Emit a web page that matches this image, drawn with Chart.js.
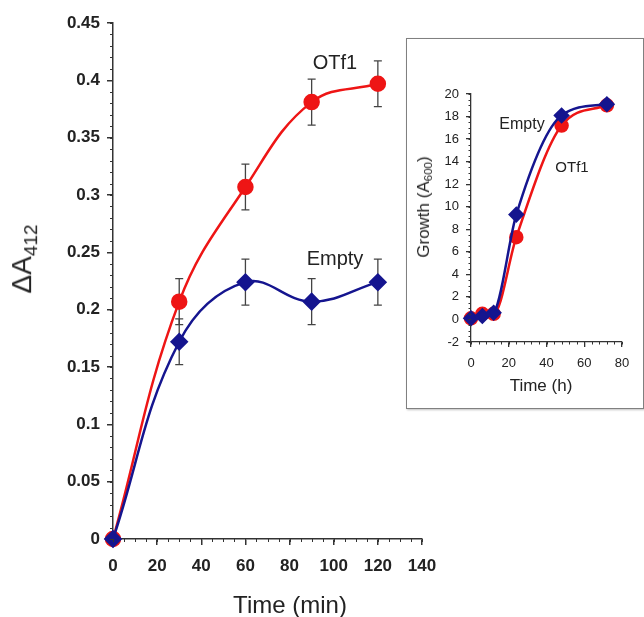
<!DOCTYPE html>
<html>
<head>
<meta charset="utf-8">
<script src="https://cdn.jsdelivr.net/npm/chart.js@4.4.1/dist/chart.umd.min.js"></script>
<style>
  body { margin: 0; background: #fff; }
  #wrap { position: relative; width: 644px; height: 617px; font-family: "Liberation Sans", Arial, sans-serif; color: #222; }
  #main { position: absolute; left: 0; top: 0; }
  #insetBox { position: absolute; left: 406px; top: 38px; width: 236px; height: 369px; border: 1.5px solid #808080; background: #fff; box-shadow: 1px 1px 2px rgba(0,0,0,0.25); }
  #inset { position: absolute; left: 0; top: 0; }
  .lbl { position: absolute; transform: translate(-50%, -50%); white-space: nowrap; line-height: 1; }
  .rot { transform: translate(-50%, -50%) rotate(-90deg); }
  sub { font-size: 0.68em; vertical-align: -0.3em; }
</style>
</head>
<body>
<div id="wrap">
  <canvas id="main" width="644" height="617"></canvas>
  <div class="lbl rot" style="left:24px; top:259px; font-size:28px;">&Delta;A<sub>412</sub></div>
  <div class="lbl" style="left:290px; top:605px; font-size:24px;">Time (min)</div>
  <div class="lbl" style="left:335px; top:62px; font-size:20px;">OTf1</div>
  <div class="lbl" style="left:335px; top:258px; font-size:20px;">Empty</div>
  <div id="insetBox">
    <canvas id="inset" width="236" height="369"></canvas>
  </div>
  <div class="lbl rot" style="left:425px; top:207px; font-size:17px;">Growth (A<sub>600</sub>)</div>
  <div class="lbl" style="left:541px; top:385px; font-size:17px;">Time (h)</div>
  <div class="lbl" style="left:522px; top:124px; font-size:16px;">Empty</div>
  <div class="lbl" style="left:572px; top:166px; font-size:15px;">OTf1</div>
</div>
<script>
// main panel: activity vs time (min)
const timeMin = [0, 30, 60, 90, 120];
const otf1Activity = [0, 0.207, 0.307, 0.381, 0.397];
const otf1Err = [0, 0.02, 0.02, 0.02, 0.02];
const emptyActivity = [0, 0.172, 0.224, 0.207, 0.224];
const emptyErr = [0, 0.02, 0.02, 0.02, 0.02];
const mainXTicks = [0, 140, 20];       // min, max, step
const mainYTicks = [0, 0.45, 0.05];

// inset: growth vs time (h)
const timeH = [0, 6, 12, 24, 48, 72];
const otf1Growth = [0.1, 0.5, 0.5, 7.3, 17.2, 19.0];
const emptyGrowth = [0.1, 0.3, 0.6, 9.3, 18.1, 19.1];
const insetXTicks = [0, 80, 20];
const insetYTicks = [-2, 20, 2];

const RED = '#ee1515';
const BLUE = '#15158f';
const AXIS = '#333';
const FONT = '"Liberation Sans", Arial, sans-serif';

const pts = (xs, ys) => xs.map((x, i) => ({ x: x, y: ys[i] }));

// small ticks between the labelled ones
const minorTicks = {
  id: 'minorTicks',
  afterDraw(chart, args, opts) {
    const ctx = chart.ctx;
    const x = chart.scales.x, y = chart.scales.y;
    ctx.save();
    ctx.strokeStyle = AXIS;
    ctx.lineWidth = 1;
    ctx.beginPath();
    let n = Math.round((x.max - x.min) / opts.xStep);
    for (let i = 0; i <= n; i++) {
      const px = Math.round(x.getPixelForValue(x.min + i * opts.xStep)) + 0.5;
      ctx.moveTo(px, x.top);
      ctx.lineTo(px, x.top + opts.len);
    }
    n = Math.round((y.max - y.min) / opts.yStep);
    for (let i = 0; i <= n; i++) {
      const py = Math.round(y.getPixelForValue(y.min + i * opts.yStep)) + 0.5;
      ctx.moveTo(y.right, py);
      ctx.lineTo(y.right - opts.len, py);
    }
    ctx.stroke();
    ctx.restore();
  }
};

// vertical error bars with caps
const errorBars = {
  id: 'errorBars',
  beforeDatasetsDraw(chart) {
    const ctx = chart.ctx;
    const x = chart.scales.x, y = chart.scales.y;
    ctx.save();
    ctx.strokeStyle = '#444';
    ctx.lineWidth = 1.3;
    chart.data.datasets.forEach(ds => {
      if (!ds.errors) return;
      ds.data.forEach((p, i) => {
        const e = ds.errors[i];
        if (!e) return;
        const px = x.getPixelForValue(p.x);
        const top = y.getPixelForValue(p.y + e);
        const bot = y.getPixelForValue(p.y - e);
        ctx.beginPath();
        ctx.moveTo(px, top); ctx.lineTo(px, bot);
        ctx.moveTo(px - 4, top); ctx.lineTo(px + 4, top);
        ctx.moveTo(px - 4, bot); ctx.lineTo(px + 4, bot);
        ctx.stroke();
      });
    });
    ctx.restore();
  }
};

function axis(t, width, font, tickLen, pad, cb) {
  return {
    type: 'linear',
    min: t[0], max: t[1],
    afterBuildTicks: s => { s.ticks = []; for (let v = t[0]; v <= t[1] + 1e-9; v += t[2]) s.ticks.push({ value: +v.toFixed(4) }); },
    border: { display: true, color: AXIS, width: width },
    grid: { display: true, drawOnChartArea: false, drawTicks: true, tickLength: tickLen, color: AXIS, lineWidth: width },
    ticks: { color: '#222', font: font, padding: pad, callback: cb || (v => String(+v.toFixed(2))), autoSkip: false, maxRotation: 0 }
  };
}

new Chart(document.getElementById('main'), {
  type: 'line',
  data: {
    datasets: [
      {
        label: 'Empty',
        data: pts(timeMin, emptyActivity),
        errors: emptyErr,
        borderColor: BLUE, backgroundColor: BLUE, borderWidth: 2.5,
        pointStyle: 'rectRot', pointRadius: 7.5, tension: 0.4, clip: false
      },
      {
        label: 'OTf1',
        data: pts(timeMin, otf1Activity),
        errors: otf1Err,
        borderColor: RED, backgroundColor: RED, borderWidth: 2.5,
        pointStyle: 'circle', pointRadius: 7, tension: 0.4, clip: false
      }
    ]
  },
  options: {
    responsive: false,
    animation: false,
    devicePixelRatio: 1,
    layout: { padding: { top: 23, right: 222, left: 0, bottom: 0 } },
    plugins: {
      legend: { display: false },
      tooltip: { enabled: false },
      minorTicks: { xStep: 5, yStep: 0.01, len: 3 }
    },
    scales: {
      x: Object.assign(axis(mainXTicks, 1.5, { family: FONT, size: 17, weight: 'bold' }, 6, 11),
        { afterFit: s => { s.height = 78; } }),
      y: Object.assign(axis(mainYTicks, 1.5, { family: FONT, size: 17, weight: 'bold' }, 6, 7),
        { afterFit: s => { s.width = 113; } })
    }
  },
  plugins: [minorTicks, errorBars]
});

new Chart(document.getElementById('inset'), {
  type: 'line',
  data: {
    datasets: [
      {
        label: 'Empty',
        data: pts(timeH, emptyGrowth),
        borderColor: BLUE, backgroundColor: BLUE, borderWidth: 2.5,
        pointStyle: 'rectRot', pointRadius: 6.5, cubicInterpolationMode: 'monotone', clip: false
      },
      {
        label: 'OTf1',
        data: pts(timeH, otf1Growth),
        borderColor: RED, backgroundColor: RED, borderWidth: 2.5,
        pointStyle: 'circle', pointRadius: 6, cubicInterpolationMode: 'monotone', clip: false
      }
    ]
  },
  options: {
    responsive: false,
    animation: false,
    devicePixelRatio: 1,
    layout: { padding: { top: 55, right: 21, left: 0, bottom: 0 } },
    plugins: {
      legend: { display: false },
      tooltip: { enabled: false },
      minorTicks: { xStep: 4, yStep: 0.5, len: 2.5 }
    },
    scales: {
      x: Object.assign(axis(insetXTicks, 1.3, { family: FONT, size: 13 }, 5, 9, v => String(v)),
        { afterFit: s => { s.height = 66; } }),
      y: Object.assign(axis(insetYTicks, 1.3, { family: FONT, size: 13 }, 5, 7, v => String(v)),
        { afterFit: s => { s.width = 64; } })
    }
  },
  plugins: [minorTicks]
});
</script>
</body>
</html>
